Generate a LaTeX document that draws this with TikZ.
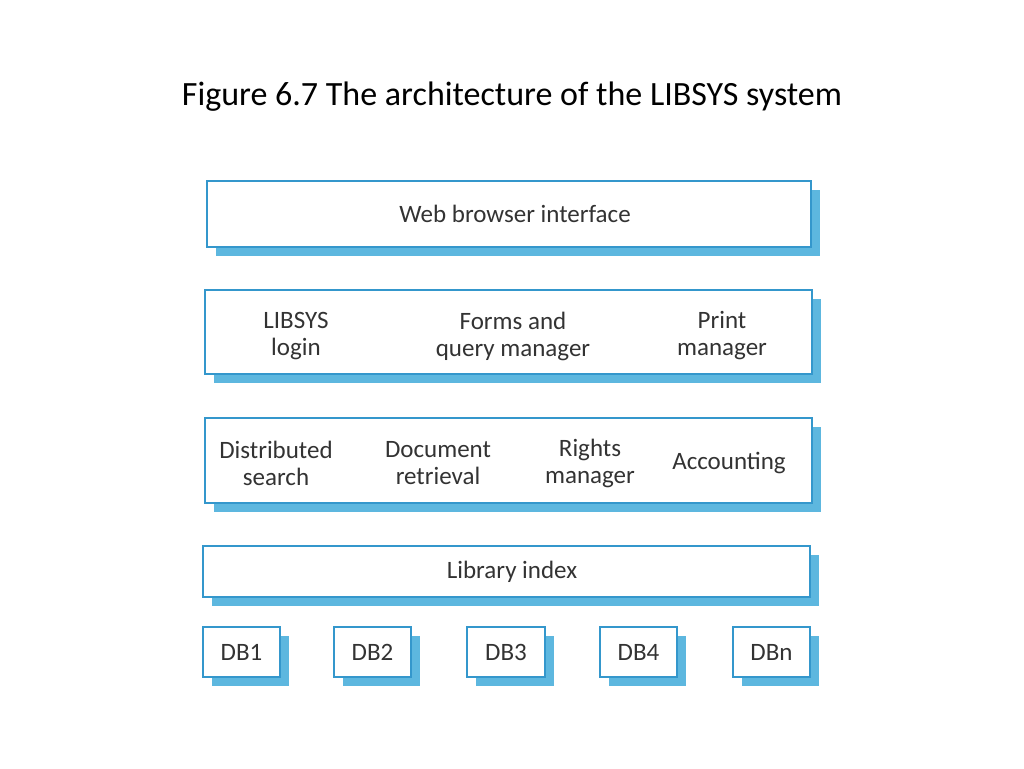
\documentclass[tikz,border=0pt]{standalone}
\usepackage{fontspec}
\setmainfont{Carlito}
\usetikzlibrary{shadows}
\definecolor{boxline}{HTML}{3497CC}
\definecolor{shadowblue}{HTML}{5DB7DF}
\definecolor{txt}{HTML}{333333}
\begin{document}
\begin{tikzpicture}[x=1pt,y=-1pt,
  layer/.style={draw=boxline, line width=2.4pt, fill=white, inner sep=0pt,
    drop shadow={shadow xshift=9pt, shadow yshift=-9pt, fill=shadowblue, opacity=1}},
  lbl/.style={text=txt, font=\fontsize{25}{27}\selectfont, align=center, inner sep=0pt}]
\useasboundingbox (0,0) rectangle (1024,768);
\node[text=black, font=\fontsize{34}{40}\selectfont, inner sep=0pt] (title) at (512,97) {Figure 6.7 The architecture of the LIBSYS system};
% layers
\node[layer, minimum width=604pt, minimum height=66pt] (web) at (509,214) {};
\node[layer, minimum width=607pt, minimum height=84pt] (ui) at (508.5,332) {};
\node[layer, minimum width=607pt, minimum height=85pt] (svc) at (508.5,460.5) {};
\node[layer, minimum width=607pt, minimum height=51pt] (idx) at (506.5,571.5) {};
\node[layer, minimum width=77pt, minimum height=50pt] (db1) at (241.5,652) {};
\node[layer, minimum width=77pt, minimum height=50pt] (db2) at (372.5,652) {};
\node[layer, minimum width=78pt, minimum height=50pt] (db3) at (506,652) {};
\node[layer, minimum width=77pt, minimum height=50pt] (db4) at (638.5,652) {};
\node[layer, minimum width=77pt, minimum height=50pt] (dbn) at (771.5,652) {};
% labels
\node[lbl] (tweb) at (515,214) {Web browser interface};
\node[lbl] (tlogin) at (296,336) {LIBSYS\\login};
\node[lbl] (tforms) at (513,336) {Forms and\\query manager};
\node[lbl] (tprint) at (722,336) {Print\\manager};
\node[lbl] (tdist) at (276,463) {Distributed\\search};
\node[lbl] (tdoc) at (438,463) {Document\\retrieval};
\node[lbl] (trights) at (590,463) {Rights\\manager};
\node[lbl] (tacc) at (729,463) {Accounting};
\node[lbl] (tidx) at (512,572) {Library index};
\node[lbl] (tdb1) at (db1.center) {DB1};
\node[lbl] (tdb2) at (db2.center) {DB2};
\node[lbl] (tdb3) at (db3.center) {DB3};
\node[lbl] (tdb4) at (db4.center) {DB4};
\node[lbl] (tdbn) at (dbn.center) {DBn};
\end{tikzpicture}
\end{document}
